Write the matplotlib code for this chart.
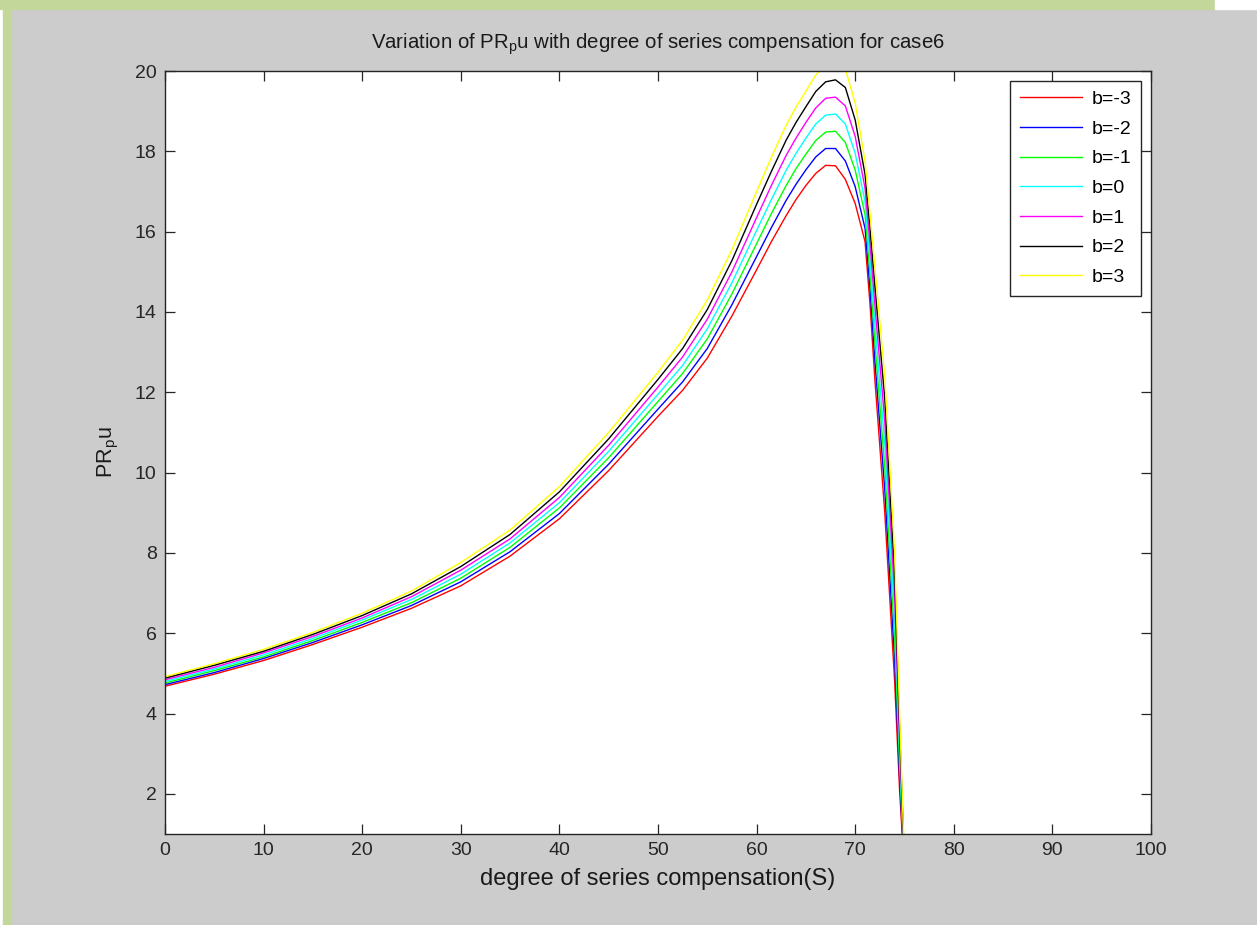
import matplotlib
matplotlib.use('Agg')
import matplotlib.pyplot as plt
from matplotlib.patches import Rectangle

plt.rcParams['font.family'] = ['Liberation Sans', 'DejaVu Sans']
plt.rcParams['mathtext.fontset'] = 'custom'
plt.rcParams['mathtext.rm'] = 'Liberation Sans'
plt.rcParams['mathtext.it'] = 'Liberation Sans'

# degree of series compensation (S)
S = [0, 5, 10, 15, 20, 25, 30, 35, 40, 45, 50, 52.5, 55, 57.5, 60, 61.5, 63, 64, 65, 66,
     67, 68, 69, 70, 71, 71.5, 72, 73, 74, 74.5, 75]

pr_bm3 = [4.68, 4.98, 5.32, 5.72, 6.15, 6.62, 7.18, 7.92, 8.85, 10.05, 11.40, 12.05, 12.85, 13.90,
          15.05, 15.75, 16.40, 16.80, 17.15, 17.45, 17.65, 17.64, 17.30, 16.70, 15.75, 14.20,
          12.30, 9.00, 4.80, 2.10, 0.00]
pr_bm2 = [4.72, 5.02, 5.37, 5.77, 6.21, 6.69, 7.28, 8.03, 8.98, 10.21, 11.58, 12.26, 13.09, 14.18,
          15.38, 16.10, 16.78, 17.18, 17.54, 17.86, 18.07, 18.07, 17.76, 17.12, 16.08, 14.58,
          12.77, 9.57, 5.33, 2.42, 0.05]
pr_bm1 = [4.76, 5.07, 5.41, 5.82, 6.27, 6.76, 7.37, 8.14, 9.12, 10.37, 11.77, 12.47, 13.33, 14.45,
          15.70, 16.45, 17.15, 17.57, 17.93, 18.27, 18.48, 18.50, 18.22, 17.53, 16.42, 14.95,
          13.23, 10.13, 5.87, 2.73, 0.10]
pr_b0 = [4.80, 5.11, 5.46, 5.87, 6.33, 6.84, 7.47, 8.25, 9.25, 10.53, 11.95, 12.67, 13.58, 14.73,
         16.03, 16.80, 17.53, 17.95, 18.33, 18.68, 18.90, 18.93, 18.68, 17.95, 16.75, 15.33,
         13.70, 10.70, 6.40, 3.05, 0.15]
pr_b1 = [4.84, 5.15, 5.51, 5.92, 6.38, 6.91, 7.57, 8.35, 9.38, 10.68, 12.13, 12.88, 13.82, 15.00,
         16.35, 17.15, 17.90, 18.33, 18.72, 19.08, 19.32, 19.35, 19.13, 18.37, 17.08, 15.70,
         14.17, 11.27, 6.93, 3.37, 0.20]
pr_b2 = [4.88, 5.20, 5.55, 5.97, 6.44, 6.98, 7.66, 8.46, 9.52, 10.84, 12.32, 13.09, 14.06, 15.28,
         16.68, 17.50, 18.28, 18.72, 19.11, 19.49, 19.73, 19.78, 19.59, 18.78, 17.42, 16.08,
         14.63, 11.83, 7.47, 3.68, 0.25]
pr_b3 = [4.92, 5.24, 5.60, 6.02, 6.50, 7.05, 7.76, 8.57, 9.65, 11.00, 12.50, 13.30, 14.30, 15.55,
         17.00, 17.85, 18.65, 19.10, 19.50, 19.90, 20.15, 20.21, 20.05, 19.20, 17.75, 16.45,
         15.10, 12.40, 8.00, 4.00, 0.30]

series = [pr_bm3, pr_bm2, pr_bm1, pr_b0, pr_b1, pr_b2, pr_b3]
labels = ['b=-3', 'b=-2', 'b=-1', 'b=0', 'b=1', 'b=2', 'b=3']
colors = ['#ff0000', '#0000ff', '#00ff00', '#00ffff', '#ff00ff', '#000000', '#ffff00']

fig = plt.figure(figsize=(12.57, 9.25), dpi=100, facecolor='#cccccc')

# window border
fig.patches.append(Rectangle((0, 0), 3 / 1257, 1, transform=fig.transFigure, color='white', zorder=-1))
fig.patches.append(Rectangle((3 / 1257, 0), 8 / 1257, 1, transform=fig.transFigure, color='#c4d79b', zorder=-1))
fig.patches.append(Rectangle((0, 1 - 9 / 925), 1215 / 1257, 9 / 925, transform=fig.transFigure,
                             color='#c4d79b', zorder=-1))
fig.patches.append(Rectangle((1215 / 1257, 1 - 9 / 925), 42 / 1257, 9 / 925, transform=fig.transFigure,
                             color='white', zorder=-1))

ax = fig.add_axes([165 / 1257, 91 / 925, 986 / 1257, 763 / 925])
ax.set_facecolor('white')

for ys, lab, c in zip(series, labels, colors):
    ax.plot(S, ys, color=c, lw=1.0, label=lab)

ax.set_xlim(0, 100)
ax.set_ylim(1, 20)
ax.set_xticks(range(0, 101, 10))
ax.set_yticks(range(2, 21, 2))
ax.tick_params(direction='in', top=True, right=True, length=7, width=0.9,
               labelsize=14, pad=6, colors='#262626')
for sp in ax.spines.values():
    sp.set_color('#262626')
    sp.set_linewidth(1.0)

ax.set_title(r'Variation of PR$_\mathrm{p}$u with degree of series compensation for case6',
             fontsize=14.7, pad=16, color='#1a1a1a')
ax.set_xlabel('degree of series compensation(S)', fontsize=17, labelpad=6, color='#1a1a1a')
ax.set_ylabel(r'PR$_\mathrm{p}$u', fontsize=15.5, labelpad=10, color='#1a1a1a')

leg = ax.legend(loc='upper right', fontsize=14, fancybox=False, framealpha=1,
                edgecolor='#262626', handlelength=3.2, handletextpad=0.5,
                labelspacing=0.62, borderaxespad=0.5, borderpad=0.5)
leg.get_frame().set_linewidth(1.0)

fig.savefig('out.png', dpi=100, facecolor=fig.get_facecolor())
